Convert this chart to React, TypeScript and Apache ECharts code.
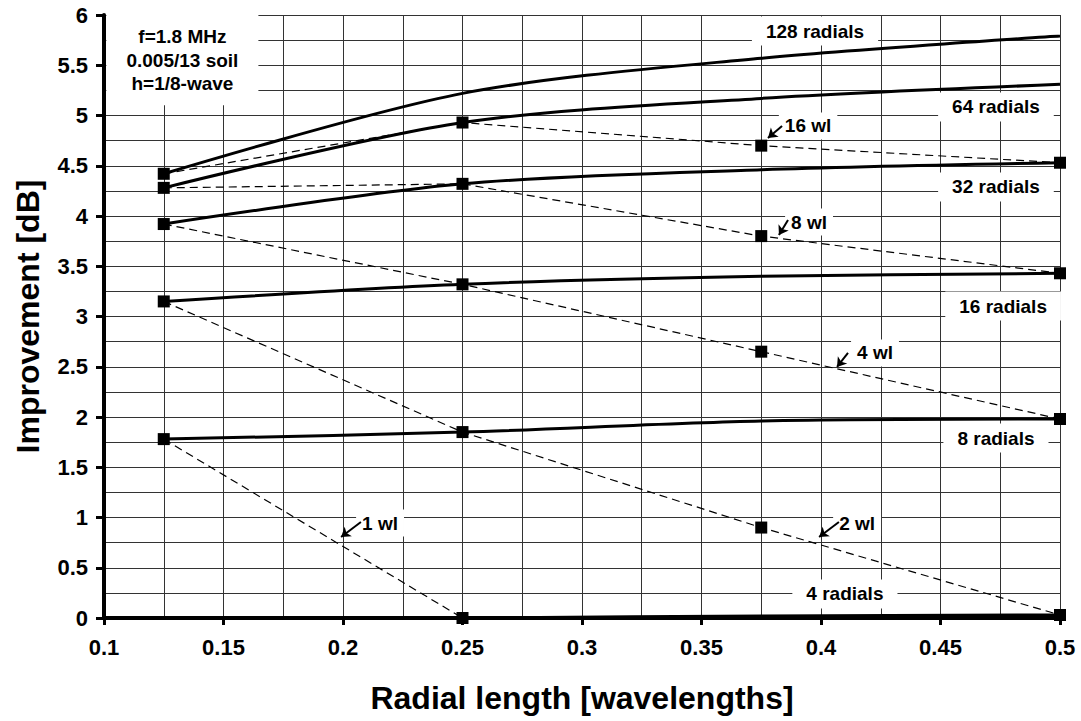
import React, { useEffect, useRef } from "react";
import * as echarts from "echarts";

// Radial lengths (wavelengths) where values were computed
const radialLengths = [0.125, 0.25, 0.375, 0.5];

// Solid curves: constant number of radials (Improvement, dB)
const radials128 = [4.42, 5.22, 5.57, 5.79];
const radials64 = [4.28, 4.93, 5.17, 5.31];
const radials32 = [3.92, 4.32, 4.46, 4.53];
const radials16 = [3.15, 3.32, 3.4, 3.43];
const radials8 = [1.78, 1.85, 1.96, 1.98];
const radials4 = [null, 0.0, 0.02, 0.03];

// Dashed curves: constant total wire length (wavelengths)
const wire16 = [4.42, 4.93, 4.7, 4.53];
const wire8 = [4.28, 4.32, 3.8, 3.43];
const wire4 = [3.92, 3.32, 2.65, 1.98];
const wire2 = [3.15, 1.85, 0.9, 0.03];
const wire1 = [1.78, 0.0, null, null];

// Axis ticks
const xTickLabels = ["0.1", "0.15", "0.2", "0.25", "0.3", "0.35", "0.4", "0.45", "0.5"];
const yTickLabels = ["0", "0.5", "1", "1.5", "2", "2.5", "3", "3.5", "4", "4.5", "5", "5.5", "6"];

// Annotation labels: [text, x, y] in data coordinates
const curveLabels: [string, number, number][] = [
  ["128 radials", 0.3975, 5.84],
  ["64 radials", 0.4732, 5.085],
  ["32 radials", 0.4732, 4.289],
  ["16 radials", 0.4762, 3.104],
  ["8 radials", 0.4732, 1.791],
  ["4 radials", 0.41, 0.239],
];
const wireLabels: [string, number, number][] = [
  ["16 wl", 0.3946, 4.896],
  ["8 wl", 0.395, 3.94],
  ["4 wl", 0.4226, 2.637],
  ["1 wl", 0.2155, 0.945],
  ["2 wl", 0.4151, 0.945],
];
// Arrows: [tailX, tailY, headX, headY]
const arrows: [number, number, number, number][] = [
  [0.3837, 4.896, 0.3778, 4.776],
  [0.3862, 3.96, 0.3824, 3.811],
  [0.4113, 2.637, 0.4067, 2.498],
  [0.2075, 0.955, 0.1992, 0.806],
  [0.4075, 0.955, 0.3992, 0.806],
];
const infoText = ["f=1.8 MHz", "0.005/13 soil", "h=1/8-wave"];
const infoPos: [number, number] = [0.1328, 5.552];

const FONT = "'Liberation Sans', Arial, sans-serif";

function toPairs(ys: (number | null)[]) {
  const out: [number, number][] = [];
  ys.forEach((y, i) => {
    if (y !== null) out.push([radialLengths[i], y]);
  });
  return out;
}

export default function App() {
  const ref = useRef<HTMLDivElement>(null);
  useEffect(() => {
    if (!ref.current) return;
    const chart = echarts.init(ref.current, null, { renderer: "svg" });

    const solid = [radials128, radials64, radials32, radials16, radials8, radials4].map((arr, i) => ({
      type: "line",
      name: ["128", "64", "32", "16", "8", "4"][i] + " radials",
      data: toPairs(arr),
      smooth: 0.3,
      showSymbol: false,
      symbol: "none",
      clip: false,
      z: 3,
      lineStyle: { color: "#000", width: 3 },
    }));

    const dashed = [wire16, wire8, wire4, wire2, wire1].map((arr, i) => ({
      type: "line",
      name: ["16", "8", "4", "2", "1"][i] + " wl",
      data: toPairs(arr),
      symbol: "rect",
      symbolSize: 12,
      showSymbol: true,
      clip: false,
      z: 4,
      itemStyle: { color: "#000" },
      lineStyle: { color: "#000", width: 1.2, type: [8, 5] },
    }));

    const labelBase = {
      show: true,
      position: "inside",
      formatter: "{b}",
      color: "#000",
      opacity: 1,
      fontFamily: FONT,
      fontWeight: "bold",
      fontSize: 19,
      backgroundColor: "#fff",
    };

    const labelSeries = (data: any[], label: any) => ({
      type: "scatter",
      symbol: "circle",
      symbolSize: 2,
      itemStyle: { color: "rgba(0,0,0,0)" },
      z: 5,
      silent: true,
      clip: false,
      labelLayout: { hideOverlap: false },
      label,
      data,
    });

    const option: any = {
      animation: false,
      backgroundColor: "#fff",
      textStyle: { fontFamily: FONT },
      grid: { left: 104, right: 21, top: 15, bottom: 103, containLabel: false },
      xAxis: {
        type: "value",
        min: 0.1,
        max: 0.5,
        interval: 0.05,
        name: "Radial length [wavelengths]",
        nameLocation: "middle",
        nameGap: 64,
        nameTextStyle: { fontSize: 32, fontWeight: "bold", color: "#000", fontFamily: FONT },
        axisLine: { show: true, onZero: false, lineStyle: { color: "#000", width: 4 } },
        axisTick: { show: true, length: 7, lineStyle: { color: "#000", width: 3 } },
        axisLabel: {
          margin: 18,
          fontSize: 22,
          fontWeight: "bold",
          color: "#000",
          fontFamily: FONT,
          formatter: (v: number) => xTickLabels[Math.round((v - 0.1) / 0.05)] ?? "",
        },
        splitLine: { show: true, lineStyle: { color: "#333", width: 1 } },
        minorTick: { show: false, splitNumber: 2 },
        minorSplitLine: { show: true, lineStyle: { color: "#333", width: 1 } },
      },
      yAxis: {
        type: "value",
        min: 0,
        max: 6,
        interval: 0.5,
        name: "Improvement [dB]",
        nameLocation: "middle",
        nameGap: 60,
        nameTextStyle: { fontSize: 32, fontWeight: "bold", color: "#000", fontFamily: FONT },
        axisLine: { show: true, lineStyle: { color: "#000", width: 4 } },
        axisTick: { show: true, length: 8, lineStyle: { color: "#000", width: 3 } },
        axisLabel: {
          margin: 16,
          fontSize: 22,
          fontWeight: "bold",
          color: "#000",
          fontFamily: FONT,
          formatter: (v: number) => yTickLabels[Math.round(v / 0.5)] ?? "",
        },
        splitLine: { show: true, lineStyle: { color: "#333", width: 1 } },
        minorTick: { show: false, splitNumber: 2 },
        minorSplitLine: { show: true, lineStyle: { color: "#333", width: 1 } },
      },
      series: [
        ...dashed,
        ...solid,
        {
          type: "lines",
          coordinateSystem: "cartesian2d",
          symbol: ["none", "arrow"],
          symbolSize: 9,
          z: 6,
          silent: true,
          lineStyle: { color: "#000", width: 2, opacity: 1 },
          data: arrows.map((a) => ({ coords: [[a[0], a[1]], [a[2], a[3]]] })),
        },
        labelSeries(
          curveLabels.map((l) => ({ name: l[0], value: [l[1], l[2]] })),
          { ...labelBase, padding: [5, 14] }
        ),
        labelSeries(
          wireLabels.map((l) => ({ name: l[0], value: [l[1], l[2]] })),
          { ...labelBase, padding: [4, 6] }
        ),
        labelSeries([{ name: "info", value: infoPos }], {
          ...labelBase,
          formatter: infoText.join("\n"),
          lineHeight: 23.5,
          align: "center",
          width: 112,
          padding: [10, 20],
        }),
      ],
    };

    chart.setOption(option);
    return () => chart.dispose();
  }, []);

  return (
    <div
      ref={ref}
      style={{ position: "absolute", left: 0, top: 0, width: 1081, height: 721, background: "#fff" }}
    />
  );
}
